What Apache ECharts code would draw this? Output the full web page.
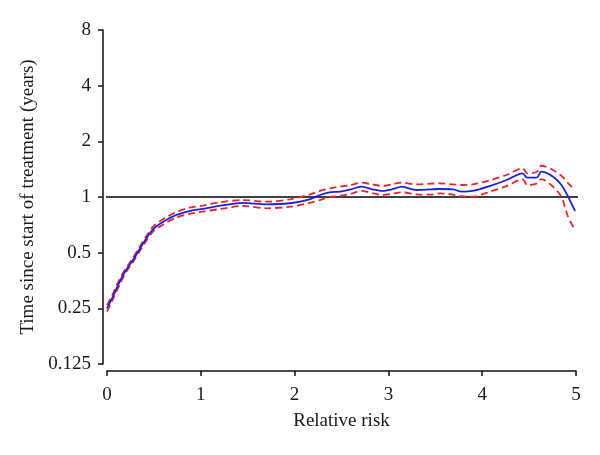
<!DOCTYPE html>
<html>
<head>
<meta charset="utf-8">
<script src="https://cdn.jsdelivr.net/npm/echarts@6/dist/echarts.min.js"></script>
<style>html,body{margin:0;padding:0;background:#fff}#c{width:600px;height:455px}</style>
</head>
<body>
<div id="c"></div>
<script>
var xVals = [0, 0.07, 0.135, 0.2, 0.277, 0.35, 0.42, 0.49, 0.6, 0.74, 0.88, 1.0, 1.2, 1.45, 1.7, 1.95, 2.16, 2.27, 2.37, 2.48, 2.6, 2.71, 2.83, 2.94, 3.04, 3.14, 3.3, 3.45, 3.55, 3.69, 3.78, 3.9, 4.08, 4.26, 4.43, 4.48, 4.585, 4.63, 4.755, 4.845, 4.915, 4.99];
var estimate = [0.25, 0.295, 0.348, 0.40, 0.456, 0.525, 0.598, 0.669, 0.735, 0.80, 0.84, 0.86, 0.895, 0.93, 0.913, 0.925, 0.972, 1.025, 1.06, 1.07, 1.10, 1.137, 1.10, 1.078, 1.10, 1.137, 1.091, 1.10, 1.105, 1.10, 1.068, 1.078, 1.146, 1.236, 1.343, 1.272, 1.277, 1.37, 1.288, 1.161, 1.004, 0.84];
var upper = [0.26, 0.305, 0.36, 0.41, 0.468, 0.54, 0.615, 0.69, 0.76, 0.83, 0.875, 0.895, 0.935, 0.963, 0.943, 0.972, 1.03, 1.08, 1.11, 1.137, 1.16, 1.195, 1.17, 1.147, 1.17, 1.195, 1.17, 1.18, 1.186, 1.17, 1.161, 1.17, 1.23, 1.315, 1.43, 1.343, 1.37, 1.476, 1.40, 1.30, 1.19, 1.09];
var lower = [0.24, 0.285, 0.336, 0.39, 0.445, 0.51, 0.58, 0.65, 0.71, 0.775, 0.81, 0.83, 0.86, 0.894, 0.869, 0.886, 0.93, 0.963, 1.0, 1.012, 1.04, 1.078, 1.05, 1.025, 1.04, 1.06, 1.034, 1.03, 1.047, 1.03, 1.01, 1.004, 1.068, 1.146, 1.246, 1.161, 1.186, 1.25, 1.137, 1.0, 0.782, 0.663];
var refX = [-0.046, 5.03];
var refY = [1, 1];
var xTicks = [0, 1, 2, 3, 4, 5];
var yTicks = [0.125, 0.25, 0.5, 1, 2, 4, 8];

function pairs(xs, ys) { return xs.map(function (x, i) { return [x, ys[i]]; }); }

var font = 'Liberation Serif';
var fs = 19;
var chart = echarts.init(document.getElementById('c'), null, { renderer: 'canvas' });
chart.setOption({
  animation: false,
  backgroundColor: '#fff',
  grid: { left: 107, right: 24, top: 30, bottom: 91, containLabel: false },
  xAxis: {
    type: 'value', min: xTicks[0], max: xTicks[xTicks.length - 1], interval: 1, offset: 7,
    name: 'Relative risk', nameLocation: 'middle', nameGap: 41,
    nameTextStyle: { fontFamily: font, fontSize: fs, color: '#1a1a1a' },
    axisLine: { show: true, onZero: false, lineStyle: { color: '#111', width: 1.5 } },
    axisTick: { show: true, length: 5, lineStyle: { color: '#111', width: 1.5 } },
    axisLabel: { fontFamily: font, fontSize: fs, color: '#1a1a1a', margin: 15 },
    splitLine: { show: false }
  },
  yAxis: {
    type: 'log', logBase: 2, min: yTicks[0], max: yTicks[yTicks.length - 1], offset: 4,
    name: 'Time since start of treatment (years)', nameLocation: 'middle', nameGap: 59,
    nameTextStyle: { fontFamily: font, fontSize: fs, color: '#1a1a1a' },
    axisLine: { show: true, onZero: false, lineStyle: { color: '#111', width: 1.5 } },
    axisTick: { show: true, length: 5, lineStyle: { color: '#111', width: 1.5 } },
    axisLabel: { fontFamily: font, fontSize: fs, color: '#1a1a1a', margin: 12,
      formatter: function (v) { return String(+v.toPrecision(6)); } },
    splitLine: { show: false }
  },
  series: [
    { type: 'line', data: pairs(refX, refY), clip: false, symbol: 'none', silent: true,
      lineStyle: { color: '#000', width: 1.3 }, z: 1 },
    { type: 'line', data: pairs(xVals, upper), symbol: 'none', smooth: 0.3,
      lineStyle: { color: '#e8242a', width: 1.8, type: [7, 4] }, z: 2 },
    { type: 'line', data: pairs(xVals, lower), symbol: 'none', smooth: 0.3,
      lineStyle: { color: '#e8242a', width: 1.8, type: [7, 4] }, z: 2 },
    { type: 'line', data: pairs(xVals, estimate), symbol: 'none', smooth: 0.3,
      lineStyle: { color: '#1a22dd', width: 1.8 }, z: 3 }
  ]
});
</script>
</body>
</html>
